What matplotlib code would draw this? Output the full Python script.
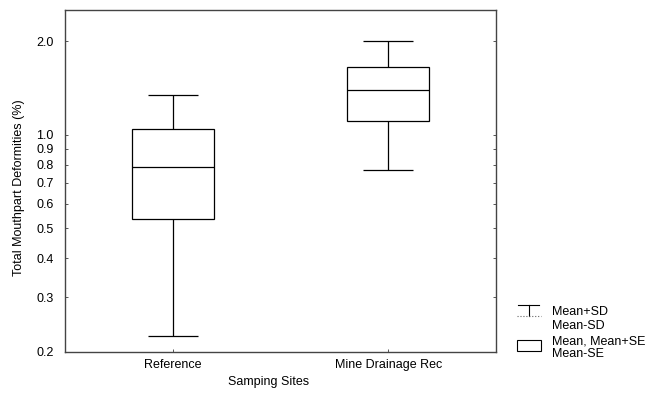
import matplotlib.pyplot as plt
from matplotlib.lines import Line2D
from matplotlib.patches import Rectangle
from matplotlib.ticker import FixedLocator, NullLocator

plt.rcParams["font.family"] = ["Liberation Sans", "DejaVu Sans"]

sites = ["Reference", "Mine Drainage Rec"]
mean = [0.787, 1.39]
mean_plus_se = [1.04, 1.65]
mean_minus_se = [0.536, 1.11]
mean_plus_sd = [1.34, 2.0]
mean_minus_sd = [0.225, 0.77]

yticks = [0.2, 0.3, 0.4, 0.5, 0.6, 0.7, 0.8, 0.9, 1.0, 2.0]
ytick_labels = ["0.2", "0.3", "0.4", "0.5", "0.6", "0.7", "0.8", "0.9", "1.0", "2.0"]

fs = 9

fig = plt.figure(figsize=(6.47, 3.99), dpi=100)
ax = fig.add_axes([65 / 647, 1 - 352 / 399, 431 / 647, 342 / 399])

x = list(range(len(sites)))
box_w = 0.38
cap_w = 0.23

# whiskers (SD) behind the boxes
ax.vlines(x, mean_minus_sd, mean_plus_sd, color="black", lw=0.9, zorder=1)
for xi, lo, hi in zip(x, mean_minus_sd, mean_plus_sd):
    ax.hlines([lo, hi], xi - cap_w / 2, xi + cap_w / 2, color="black", lw=0.9, zorder=1)

# boxes (SE)
heights = [h - l for h, l in zip(mean_plus_se, mean_minus_se)]
ax.bar(x, heights, bottom=mean_minus_se, width=box_w, color="white",
       edgecolor="black", lw=0.9, zorder=2)
for xi, m in zip(x, mean):
    ax.hlines(m, xi - box_w / 2, xi + box_w / 2, color="black", lw=0.9, zorder=3)

ax.set_yscale("log")
ax.set_ylim(0.2, 2.52)
ax.set_xlim(-0.5, 1.5)
ax.yaxis.set_major_locator(FixedLocator(yticks))
ax.yaxis.set_minor_locator(NullLocator())
ax.set_yticklabels(ytick_labels)
ax.set_xticks(x)
ax.set_xticklabels(sites)
ax.tick_params(axis="y", direction="in", length=2, labelsize=fs, right=True,
               pad=8, width=0.7, color="#555555")
ax.tick_params(axis="x", direction="in", length=2, labelsize=fs, pad=5,
               width=0.7, color="#555555")
for s in ax.spines.values():
    s.set_color("#444444")
    s.set_linewidth(1.0)

ax.set_ylabel("Total Mouthpart Deformities (%)", fontsize=fs)
ax.yaxis.set_label_coords(-40 / 431, 0.48)
ax.set_xlabel("Samping Sites", fontsize=fs)
ax.xaxis.set_label_coords(204 / 431, -24 / 342)

# legend on the right
fx = lambda px: px / 647
fy = lambda py: 1 - py / 399
fig.add_artist(Line2D([fx(518), fx(539)], [fy(305), fy(305)], color="black", lw=0.8))
fig.add_artist(Line2D([fx(529), fx(529)], [fy(305), fy(316)], color="black", lw=0.8))
fig.add_artist(Line2D([fx(517), fx(541)], [fy(316), fy(316)], color="#666666", lw=0.8, ls=":"))
fig.add_artist(Rectangle((fx(517), fy(351)), fx(541) - fx(517), fy(340) - fy(351),
                         transform=fig.transFigure, fill=False, ec="black", lw=0.8))
fig.text(fx(552), fy(312), "Mean+SD", fontsize=fs, va="center")
fig.text(fx(552), fy(326), "Mean-SD", fontsize=fs, va="center")
fig.text(fx(552), fy(342), "Mean, Mean+SE", fontsize=fs, va="center")
fig.text(fx(552), fy(354), "Mean-SE", fontsize=fs, va="center")

fig.savefig("out.png", dpi=100)
